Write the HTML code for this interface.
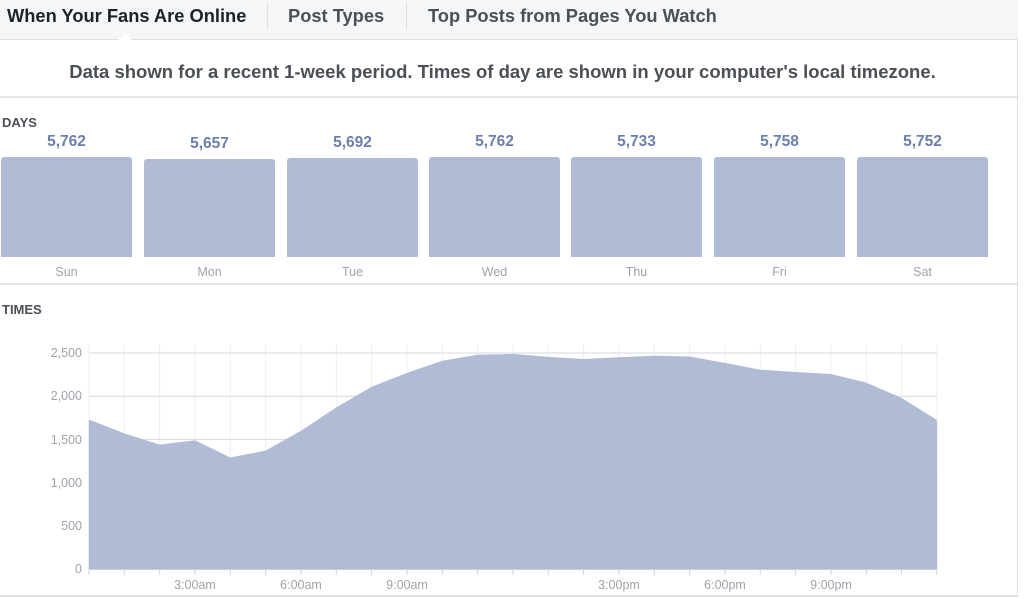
<!DOCTYPE html>
<html><head><meta charset="utf-8"><style>
body{margin:0;width:1024px;height:598px;background:#fff;font-family:"Liberation Sans",sans-serif;overflow:hidden;position:relative}
.tabs{position:absolute;left:0;top:0;width:1018px;height:39px;background:#f5f6f7;border-bottom:1px solid #dddfe2}
.tab{position:absolute;top:5px;font-size:18.3px;font-weight:bold;color:#4b4f56}
.sep{position:absolute;top:2px;width:1px;height:28px;background:#dddfe2}
.panel{position:absolute;left:0;top:40px;width:1017px;height:555px;border-right:1px solid #dddfe2;border-bottom:2px solid #dddfe2}
.desc{position:absolute;top:61px;left:0;width:1005px;text-align:center;font-size:18.5px;font-weight:bold;color:#4b4f56;white-space:nowrap}
.hr{position:absolute;left:0;width:1017px;height:2px;background:#e5e6e9}
.lbl{position:absolute;left:2px;font-size:13px;font-weight:bold;color:#4b4f56}
.bar{position:absolute;top:157px;height:100px;width:131px;background:#b0bcd5;border-radius:3px 3px 0 0}
.val{position:absolute;top:133px;width:131px;text-align:center;font-size:15.5px;font-weight:bold;color:#6a7fac}
.day{position:absolute;top:265px;width:131px;text-align:center;font-size:12.5px;color:#a0a4ab}
</style></head><body>
<div class="tabs">
<div class="tab" style="left:7px;color:#1d2129">When Your Fans Are Online</div>
<div class="sep" style="left:267px"></div>
<div class="tab" style="left:288px">Post Types</div>
<div class="sep" style="left:406px"></div>
<div class="tab" style="left:428px">Top Posts from Pages You Watch</div>
</div>
<div style="position:absolute;left:118px;top:33px;width:0;height:0;border-left:7px solid transparent;border-right:7px solid transparent;border-bottom:7px solid #fff"></div>
<div class="panel"></div>
<div class="desc">Data shown for a recent 1-week period. Times of day are shown in your computer's local timezone.</div>
<div class="hr" style="top:96px"></div>
<div class="lbl" style="top:115px">DAYS</div>
<div class="val" style="left:1px">5,762</div><div class="bar" style="left:1px"></div><div class="day" style="left:1px">Sun</div>
<div class="val" style="left:144px;top:135px">5,657</div><div class="bar" style="left:144px;top:159px;height:98px"></div><div class="day" style="left:144px">Mon</div>
<div class="val" style="left:287px;top:134px">5,692</div><div class="bar" style="left:287px;top:158px;height:99px"></div><div class="day" style="left:287px">Tue</div>
<div class="val" style="left:429px">5,762</div><div class="bar" style="left:429px"></div><div class="day" style="left:429px">Wed</div>
<div class="val" style="left:571px">5,733</div><div class="bar" style="left:571px"></div><div class="day" style="left:571px">Thu</div>
<div class="val" style="left:714px">5,758</div><div class="bar" style="left:714px"></div><div class="day" style="left:714px">Fri</div>
<div class="val" style="left:857px">5,752</div><div class="bar" style="left:857px"></div><div class="day" style="left:857px">Sat</div>
<div class="hr" style="top:283px"></div>
<div class="lbl" style="top:302px">TIMES</div>
<svg style="position:absolute;left:0;top:0" width="1024" height="598">
<g stroke="#eceef1" stroke-width="1" id="g"></g>
<g font-family="Liberation Sans" font-size="12.5" fill="#9ea3ab" text-anchor="end">
<text x="82" y="357">2,500</text><text x="82" y="400">2,000</text><text x="82" y="444">1,500</text><text x="82" y="487">1,000</text><text x="82" y="530">500</text><text x="82" y="573">0</text>
</g>
<g font-family="Liberation Sans" font-size="12.5" fill="#9ea3ab" text-anchor="middle">
<text x="195" y="589">3:00am</text><text x="301" y="589">6:00am</text><text x="407" y="589">9:00am</text><text x="619" y="589">3:00pm</text><text x="725" y="589">6:00pm</text><text x="831" y="589">9:00pm</text>
</g>
<polygon id="p" fill="#b0bcd5"></polygon>
<g stroke="#a9b4cc" stroke-width="1" id="g2"></g>
<line x1="89" y1="569.5" x2="937" y2="569.5" stroke="#c8cdd8"/>
<g stroke="#d0d3d8" id="t"></g>
</svg>
<script>
var v=[1730,1570,1440,1490,1290,1370,1600,1870,2110,2270,2410,2480,2490,2455,2430,2450,2470,2460,2385,2307,2280,2257,2157,1980,1725];
var pts="89,569 ";var g="",g2="",t="";
for(var i=0;i<25;i++){var x=89+i*35.33;pts+=x.toFixed(1)+","+(569-v[i]*216/2500).toFixed(1)+" ";
g+='<line x1="'+x+'" y1="344" x2="'+x+'" y2="569"/>';
g2+='<line x1="'+x+'" y1="'+(569-v[i]*216/2500+2)+'" x2="'+x+'" y2="569" stroke-opacity="0.4"/>';
t+='<line x1="'+x+'" y1="569" x2="'+x+'" y2="575"/>';}
for(var k=0;k<6;k++){var y=353+k*43.2;g+='<line x1="89" y1="'+y+'" x2="937" y2="'+y+'"/>';g2+='<line x1="89" y1="'+y+'" x2="937" y2="'+y+'" stroke-opacity="0.35"/>';}
pts+="937,569";
document.getElementById('p').setAttribute('points',pts);
document.getElementById('g').innerHTML=g;document.getElementById('g2').innerHTML=g2;document.getElementById('t').innerHTML=t;
</script>
</body></html>
